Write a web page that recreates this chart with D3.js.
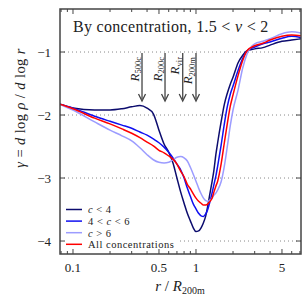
<!DOCTYPE html>
<html><head><meta charset="utf-8">
<script src="https://cdn.jsdelivr.net/npm/d3@7"></script>
<style>
html,body{margin:0;padding:0;background:#fff;}
text{font-family:"Liberation Serif","Times New Roman",serif;fill:#222;}
</style></head>
<body><svg id="c" width="308" height="301"></svg>
<script>
// ---- data ----
const rGrid = [0.0784,0.1,0.15,0.2,0.25,0.3,0.35,0.4,0.45,0.5,
  0.55,0.6,0.65,0.7,0.75,0.8,0.85,0.9,0.95,1.0,
  1.05,1.1,1.15,1.2,1.25,1.3,1.35,1.4,1.45,1.5,
  1.6,1.7,1.8,1.9,2.0,2.2,2.4,2.6,3.0,3.5,
  4.0,5.0,6.0,7.14];
const gammaLowC = [-1.83,-1.89,-1.92,-1.92,-1.90,-1.87,-1.85,-1.89,-1.98,-2.24,
  -2.46,-2.59,-2.76,-3.00,-3.22,-3.40,-3.56,-3.68,-3.79,-3.85,
  -3.84,-3.79,-3.71,-3.60,-3.43,-3.24,-3.06,-2.87,-2.63,-2.44,
  -2.11,-1.83,-1.65,-1.51,-1.40,-1.17,-1.05,-0.98,-0.95,-0.93,
  -0.89,-0.83,-0.81,-0.79];
const gammaMidC = [-1.83,-1.89,-2.02,-2.10,-2.16,-2.21,-2.27,-2.32,-2.38,-2.44,
  -2.51,-2.59,-2.68,-2.78,-2.87,-3.00,-3.16,-3.29,-3.41,-3.49,
  -3.56,-3.60,-3.61,-3.57,-3.49,-3.37,-3.24,-3.10,-2.97,-2.81,
  -2.48,-2.14,-1.86,-1.67,-1.54,-1.29,-1.10,-0.98,-0.92,-0.87,
  -0.84,-0.78,-0.75,-0.77];
const gammaHighC = [-1.83,-1.92,-2.11,-2.24,-2.33,-2.41,-2.52,-2.63,-2.71,-2.75,
  -2.76,-2.75,-2.71,-2.67,-2.66,-2.68,-2.73,-2.83,-2.94,-3.05,
  -3.16,-3.25,-3.32,-3.36,-3.37,-3.35,-3.32,-3.27,-3.24,-3.19,
  -3.06,-2.81,-2.49,-2.17,-1.92,-1.60,-1.25,-1.03,-0.87,-0.83,
  -0.79,-0.71,-0.68,-0.70];
const gammaAll = [-1.83,-1.90,-2.05,-2.14,-2.22,-2.29,-2.36,-2.43,-2.49,-2.56,
  -2.60,-2.65,-2.70,-2.78,-2.89,-2.98,-3.10,-3.17,-3.25,-3.32,
  -3.37,-3.40,-3.43,-3.43,-3.41,-3.37,-3.32,-3.22,-3.13,-3.05,
  -2.78,-2.44,-2.13,-1.86,-1.68,-1.37,-1.13,-0.98,-0.90,-0.86,
  -0.81,-0.75,-0.73,-0.74];
const seriesKeys = ["lowC","midC","highC","all"];
const seriesColors = ["#0c0c6e","#1010f0","#9c9cff","#ff0000"];
const xTickValues = [0.1,0.5,1,5];
const xTickLabels = ["0.1","0.5","1","5"];
const xMinorValues = [0.08,0.09,0.2,0.3,0.4,0.6,0.7,0.8,0.9,2,3,4,6,7];
const yTickValues = [-1,-2,-3,-4];
const radiusMarkers = [0.364,0.56,0.78,1.0];
const radiusSubs = ["500c","200c","vir","200m"];

// ---- layout ----
const L=60,R=301,T=9,B=254;
const svg=d3.select("#c");
const x=d3.scaleLog().domain([0.0784,7.14]).range([L,R]);
const y=d3.scaleLinear().domain([-4.206,-0.317]).range([B,T]);

svg.append("defs").append("clipPath").attr("id","clip")
  .append("rect").attr("x",L).attr("y",T).attr("width",R-L).attr("height",B-T);

// grid
svg.append("g").selectAll("line").data(yTickValues).join("line")
  .attr("x1",L).attr("x2",R).attr("y1",d=>y(d)).attr("y2",d=>y(d))
  .attr("stroke","#888").attr("stroke-width",1).attr("stroke-dasharray","1,3");

// curves
const seriesData=[gammaLowC,gammaMidC,gammaHighC,gammaAll];
const line=d3.line().x(d=>x(d[0])).y(d=>y(d[1])).curve(d3.curveMonotoneX);
const gLines=svg.append("g").attr("clip-path","url(#clip)");
seriesData.forEach((g,i)=>{
  gLines.append("path").datum(rGrid.map((r,j)=>[r,g[j]]))
    .attr("d",line).attr("fill","none").attr("stroke",seriesColors[i]).attr("stroke-width",1.5);
});

// radius arrows
const gA=svg.append("g");
radiusMarkers.forEach((r,i)=>{
  const px=x(r);
  gA.append("line").attr("x1",px).attr("x2",px).attr("y1",53).attr("y2",99)
    .attr("stroke","#444").attr("stroke-width",1.3);
  gA.append("path").attr("d",`M${px-3.5},${94} L${px},${101} L${px+3.5},${94}`)
    .attr("fill","none").attr("stroke","#444").attr("stroke-width",1.3);
  const t=gA.append("text").attr("transform",`translate(${px-3.5},57) rotate(-90)`)
    .attr("text-anchor","end").attr("font-size",13);
  t.append("tspan").attr("font-style","italic").text("R");
  t.append("tspan").attr("font-size",8.5).attr("dy",2.5).text(radiusSubs[i]);
});

// legend
svg.append("rect").attr("x",L+1.5).attr("y",202).attr("width",117).attr("height",50).attr("fill","#fff");
const legY=[209.5,221.1,232.7,244.3];
const lg=svg.append("g");
const legText=[
  [["c",true],[" < 4",false]],
  [["4 < ",false],["c",true],[" < 6",false]],
  [["c",true],[" > 6",false]],
  [["All concentrations",false]]
];
seriesKeys.forEach((k,i)=>{
  lg.append("line").attr("x1",66).attr("x2",82).attr("y1",legY[i]).attr("y2",legY[i])
    .attr("stroke",seriesColors[i]).attr("stroke-width",1.5);
  const t=lg.append("text").attr("x",88).attr("y",legY[i]+3.8).attr("font-size",10.5)
    .attr("letter-spacing",0.5);
  legText[i].forEach(p=>t.append("tspan").attr("font-style",p[1]?"italic":"normal").text(p[0]));
});

// axes ticks
const ax=svg.append("g").attr("stroke","#444").attr("stroke-width",1);
xTickValues.forEach(v=>{
  ax.append("line").attr("x1",x(v)).attr("x2",x(v)).attr("y1",B).attr("y2",B-5);
  ax.append("line").attr("x1",x(v)).attr("x2",x(v)).attr("y1",T).attr("y2",T+5);
});
xMinorValues.forEach(v=>{
  ax.append("line").attr("x1",x(v)).attr("x2",x(v)).attr("y1",B).attr("y2",B-3);
  ax.append("line").attr("x1",x(v)).attr("x2",x(v)).attr("y1",T).attr("y2",T+3);
});
yTickValues.forEach(v=>{
  ax.append("line").attr("x1",L).attr("x2",L+5).attr("y1",y(v)).attr("y2",y(v));
  ax.append("line").attr("x1",R).attr("x2",R-5).attr("y1",y(v)).attr("y2",y(v));
});
svg.append("rect").attr("x",L).attr("y",T).attr("width",R-L).attr("height",B-T)
  .attr("fill","none").attr("stroke","#444").attr("stroke-width",1.5);

// tick labels
svg.append("g").selectAll("text").data(xTickValues).join("text")
  .attr("x",d=>x(d)).attr("y",272).attr("text-anchor","middle").attr("font-size",13)
  .text((d,i)=>xTickLabels[i]);
svg.append("g").selectAll("text").data(yTickValues).join("text")
  .attr("x",51).attr("y",d=>y(d)+4.5).attr("text-anchor","end").attr("font-size",13)
  .text(d=>"\u2212"+Math.abs(d));

// title
const title=svg.append("text").attr("x",73).attr("y",32).attr("font-size",16).attr("letter-spacing",0.3);
title.append("tspan").text("By concentration,  1.5 < ");
title.append("tspan").attr("font-style","italic").text("\u03bd");
title.append("tspan").text(" < 2");

// x label
const xl=svg.append("text").attr("x",180).attr("y",291).attr("text-anchor","middle").attr("font-size",15);
xl.append("tspan").attr("font-style","italic").text("r");
xl.append("tspan").text(" / ");
xl.append("tspan").attr("font-style","italic").text("R");
xl.append("tspan").attr("font-size",10).attr("dy",3).text("200m");

// y label
const yl=svg.append("text").attr("transform","translate(25,108) rotate(-90)").attr("text-anchor","middle")
  .attr("font-size",14.5).attr("letter-spacing",0.4);
yl.append("tspan").attr("font-style","italic").text("\u03b3");
yl.append("tspan").text(" = ");
yl.append("tspan").attr("font-style","italic").text("d");
yl.append("tspan").text(" log ");
yl.append("tspan").attr("font-style","italic").text("\u03c1");
yl.append("tspan").text(" / ");
yl.append("tspan").attr("font-style","italic").text("d");
yl.append("tspan").text(" log ");
yl.append("tspan").attr("font-style","italic").text("r");
</script></body></html>
